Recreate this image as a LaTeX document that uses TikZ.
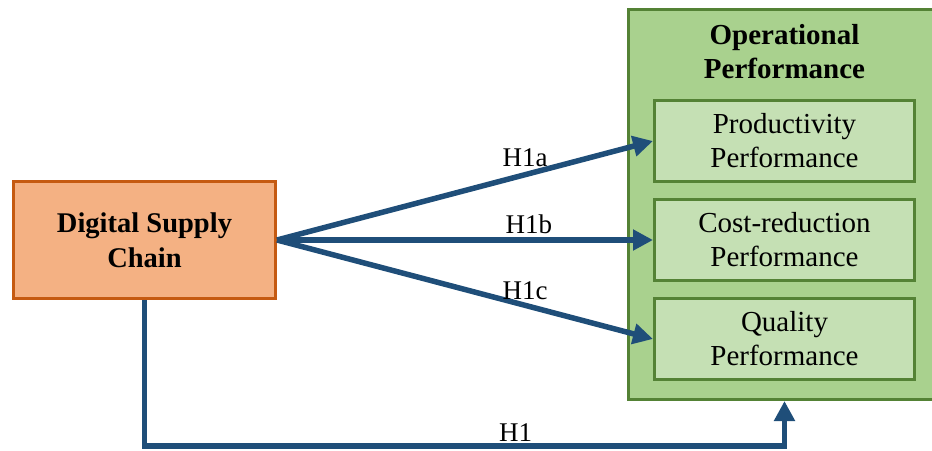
\documentclass[tikz,border=0pt]{standalone}
\usepackage{fontspec}
\setmainfont{Liberation Serif}
\usetikzlibrary{arrows.meta}
\definecolor{dscfill}{HTML}{F4B183}
\definecolor{dscline}{HTML}{C55A11}
\definecolor{opfill}{HTML}{A9D18E}
\definecolor{opline}{HTML}{548235}
\definecolor{subfill}{HTML}{C5E0B4}
\definecolor{arrowc}{HTML}{1F4E79}
\tikzset{
  dscbox/.style={draw=dscline, fill=dscfill, line width=3pt, minimum width=262pt, minimum height=117pt, align=center, font=\fontsize{28.5}{35}\selectfont\bfseries},
  opbox/.style={draw=opline, fill=opfill, line width=3pt, minimum width=312pt, minimum height=390pt},
  subbox/.style={draw=opline, fill=subfill, line width=3pt, minimum width=260pt, minimum height=81pt, align=center, font=\fontsize{29}{34}\selectfont},
  arr/.style={draw=arrowc, line width=5.5pt, -{Triangle[length=20pt,width=20pt]}, line join=miter},
  hlabel/.style={font=\fontsize{27}{30}\selectfont, inner sep=2pt}
}
\begin{document}
\begin{tikzpicture}[x=1pt,y=-1pt]
\useasboundingbox (0,0) rectangle (932,450);
\node[opbox] (op) at (784.5,204.5) {};
\node[align=center, font=\fontsize{29}{34}\selectfont\bfseries] (optitle) at (784.5,52) {Operational\\Performance};
\node[subbox] (prod) at (784.5,141) {Productivity\\Performance};
\node[subbox] (cost) at (784.5,240) {Cost-reduction\\Performance};
\node[subbox] (qual) at (784.5,339) {Quality\\Performance};
\node[dscbox] (dsc) at (144.5,240) {Digital Supply\\Chain};
\coordinate (h1) at (144.5,446);
\draw[arr] (dsc.east) -- node[hlabel, pos=0.66, above=3pt] {H1a} (prod.west);
\draw[arr] (dsc.east) -- node[hlabel, pos=0.67, above=1pt] {H1b} (cost.west);
\draw[arr] (dsc.east) -- node[hlabel, pos=0.66, above=1pt] {H1c} (qual.west);
\draw[arr] (dsc.south) -- (h1) -| node[hlabel, pos=0.29, above=0pt] {H1} (op.south);
\end{tikzpicture}
\end{document}
